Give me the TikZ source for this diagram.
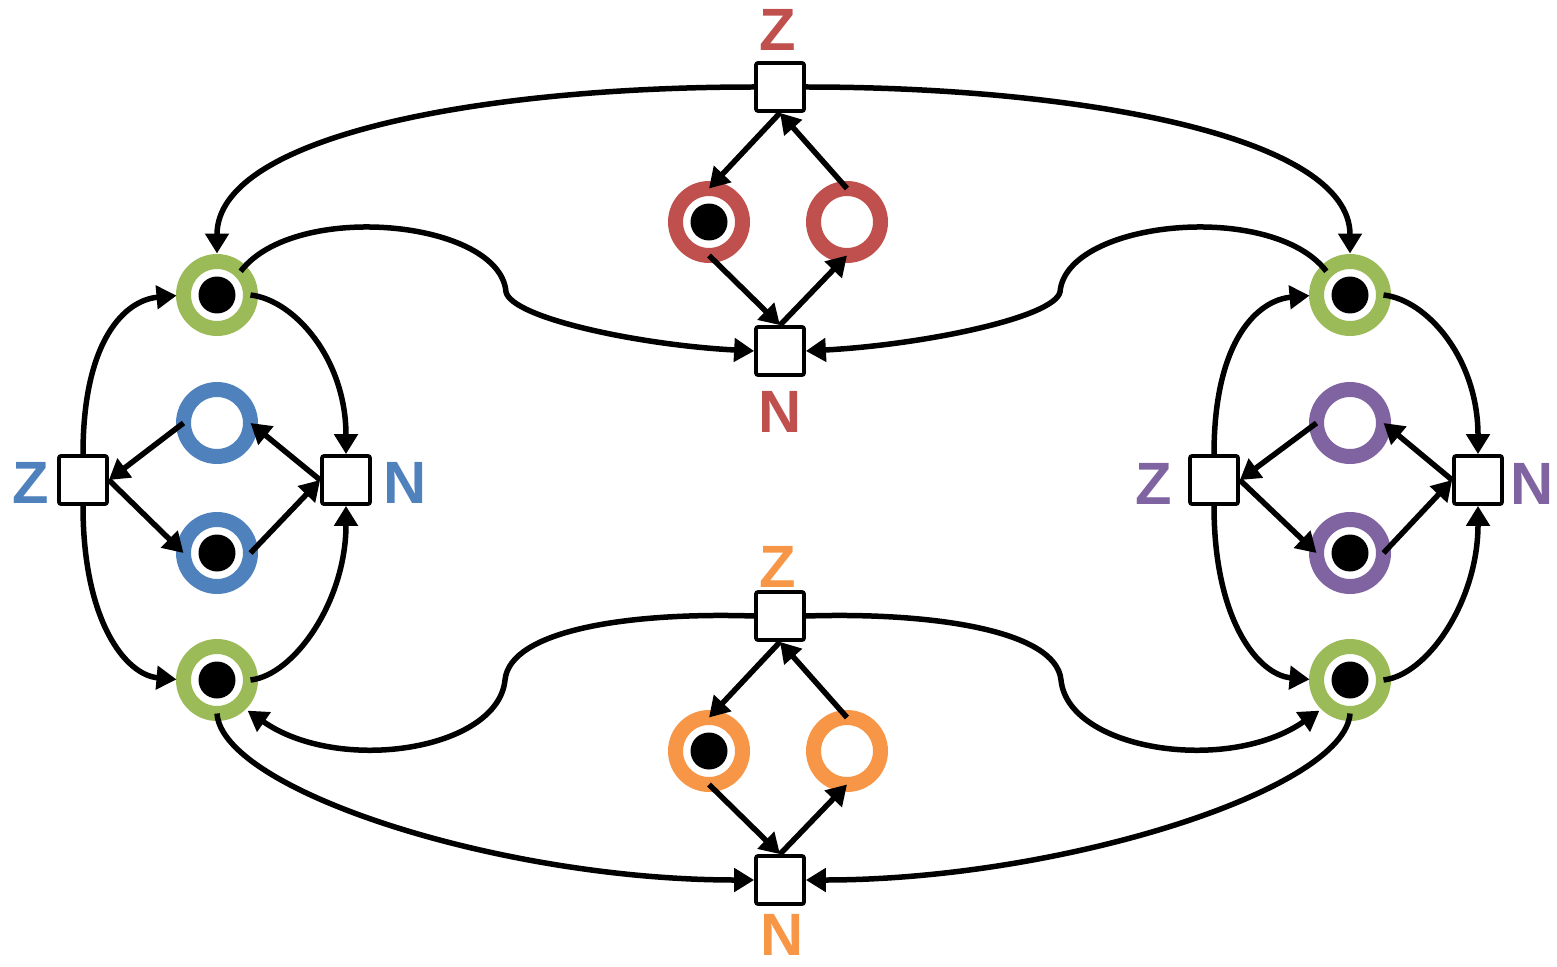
\documentclass[tikz,border=0pt]{standalone}
\usepackage{fontspec}
\setmainfont{Liberation Sans}
\usetikzlibrary{arrows.meta}
\definecolor{pnred}{HTML}{C0504D}
\definecolor{pnblue}{HTML}{4F81BD}
\definecolor{pngreen}{HTML}{9BBB59}
\definecolor{pnpurple}{HTML}{8064A2}
\definecolor{pnorange}{HTML}{F79646}
\begin{document}
\begin{tikzpicture}[x=0.02cm,y=-0.02cm,
  place/.style={circle, draw=#1, fill=white, line width=0.3cm, minimum size=1.34cm, inner sep=0pt, outer sep=0pt},
  marked/.style={place=#1, path picture={\fill[black] (path picture bounding box.center) circle[radius=0.37cm];}},
  trans/.style={rectangle, draw=black, fill=white, line width=0.075cm, minimum size=0.96cm, inner sep=0pt, rounded corners=0.04cm},
  lab/.style={font=\bfseries\fontsize{34}{40}\selectfont, inner sep=0pt, text=#1},
  flow/.style={line width=0.11cm, -{Triangle[length=0.4cm,width=0.46cm]}},
]
\useasboundingbox (0,0) rectangle (1557,966);

% transitions of the top and bottom pairs
\node[trans] (TZ) at (780,87) {};
\node[trans] (TN) at (780,351) {};
\node[trans] (BZ) at (780,616) {};
\node[trans] (BN) at (780,880) {};

% top and bottom places
\node[marked=pnred] (rL) at (709,222) {};
\node[place=pnred] (rR) at (847,222) {};
\node[marked=pnorange] (oL) at (709,751) {};
\node[place=pnorange] (oR) at (847,751) {};

% left group
\node[trans] (LZ) at (83,480) {};
\node[trans] (LN) at (346,480) {};
\node[place=pnblue] (bT) at (217,423) {};
\node[marked=pnblue] (bB) at (217,553) {};
\node[marked=pngreen] (gLT) at (217,295) {};
\node[marked=pngreen] (gLB) at (217,680) {};

% right group
\node[trans] (RZ) at (1214,480) {};
\node[trans] (RN) at (1478,480) {};
\node[place=pnpurple] (pT) at (1350,423) {};
\node[marked=pnpurple] (pB) at (1350,553) {};
\node[marked=pngreen] (gRT) at (1350,295) {};
\node[marked=pngreen] (gRB) at (1350,680) {};

% labels
\node[lab=pnred] (zT) at (778,30) {Z};
\node[lab=pnred] (nT) at (780,412) {N};
\node[lab=pnblue] (zL) at (31,483) {Z};
\node[lab=pnblue] (nL) at (405,483) {N};
\node[lab=pnpurple] (zR) at (1154,484) {Z};
\node[lab=pnpurple] (nR) at (1532,484) {N};
\node[lab=pnorange] (zB) at (778,567) {Z};
\node[lab=pnorange] (nB) at (782,935) {N};

% top diamond
\draw[flow] (TZ.south) -- (rL.north);
\draw[flow] (rR.north) -- (TZ.south);
\draw[flow] (rL.south) -- (TN.north);
\draw[flow] (TN.north) -- (rR.south);

% bottom diamond
\draw[flow] (BZ.south) -- (oL.north);
\draw[flow] (oR.north) -- (BZ.south);
\draw[flow] (oL.south) -- (BN.north);
\draw[flow] (BN.north) -- (oR.south);

% left diamond and oval
\draw[flow] (bT.west) -- (LZ.east);
\draw[flow] (LZ.east) -- (bB.west);
\draw[flow] (LN.west) -- (bT.east);
\draw[flow] (bB.east) -- (LN.west);
\draw[flow] (gLT.east) .. controls +(44,5) and +(0,-95) .. (LN.north);
\draw[flow, shorten >=0.14cm] (LZ.north) .. controls +(0,-115) and +(-58,5) .. (gLT.west);
\draw[flow, shorten >=0.14cm] (LZ.south) .. controls +(0,115) and +(-58,-5) .. (gLB.west);
\draw[flow] (gLB.east) .. controls +(44,-5) and +(0,95) .. (LN.south);

% right diamond and oval
\draw[flow] (pT.west) -- (RZ.east);
\draw[flow] (RZ.east) -- (pB.west);
\draw[flow] (RN.west) -- (pT.east);
\draw[flow] (pB.east) -- (RN.west);
\draw[flow] (gRT.east) .. controls +(44,5) and +(0,-95) .. (RN.north);
\draw[flow, shorten >=0.14cm] (RZ.north) .. controls +(0,-115) and +(-58,5) .. (gRT.west);
\draw[flow, shorten >=0.14cm] (RZ.south) .. controls +(0,115) and +(-58,-5) .. (gRB.west);
\draw[flow] (gRB.east) .. controls +(44,-5) and +(0,95) .. (RN.south);

% long arcs from the top transition
\draw[flow, shorten >=0.16cm] (TZ.west) .. controls +(-275,0) and +(0,-125) .. (gLT.north);
\draw[flow, shorten >=0.16cm] (TZ.east) .. controls +(275,0) and +(0,-125) .. (gRT.north);

% S-shaped arcs into the top N transition
\coordinate (sLT) at (506,292);
\coordinate (sRT) at (1060,292);
\draw[flow] (gLT.45) .. controls +(54,-71) and +(-6,-72) .. (sLT)
  .. controls +(6,26) and +(-115,-6) .. (TN.west);
\draw[flow] (gRT.135) .. controls +(-54,-71) and +(6,-72) .. (sRT)
  .. controls +(-6,26) and +(115,-6) .. (TN.east);

% S-shaped arcs from the bottom Z transition
\coordinate (sLB) at (505,680);
\coordinate (sRB) at (1061,680);
\draw[flow, shorten >=0.2cm] (BZ.west) .. controls +(-125,-4) and +(5,-50) .. (sLB)
  .. controls +(-7,70) and +(100,70) .. (gLB.312);
\draw[flow, shorten >=0.2cm] (BZ.east) .. controls +(125,-4) and +(-5,-50) .. (sRB)
  .. controls +(7,70) and +(-100,70) .. (gRB.228);

% long arcs into the bottom N transition
\draw[flow] (gLB.south) .. controls +(5,76) and +(-255,0) .. (BN.west);
\draw[flow] (gRB.south) .. controls +(-5,76) and +(255,0) .. (BN.east);
\end{tikzpicture}
\end{document}
